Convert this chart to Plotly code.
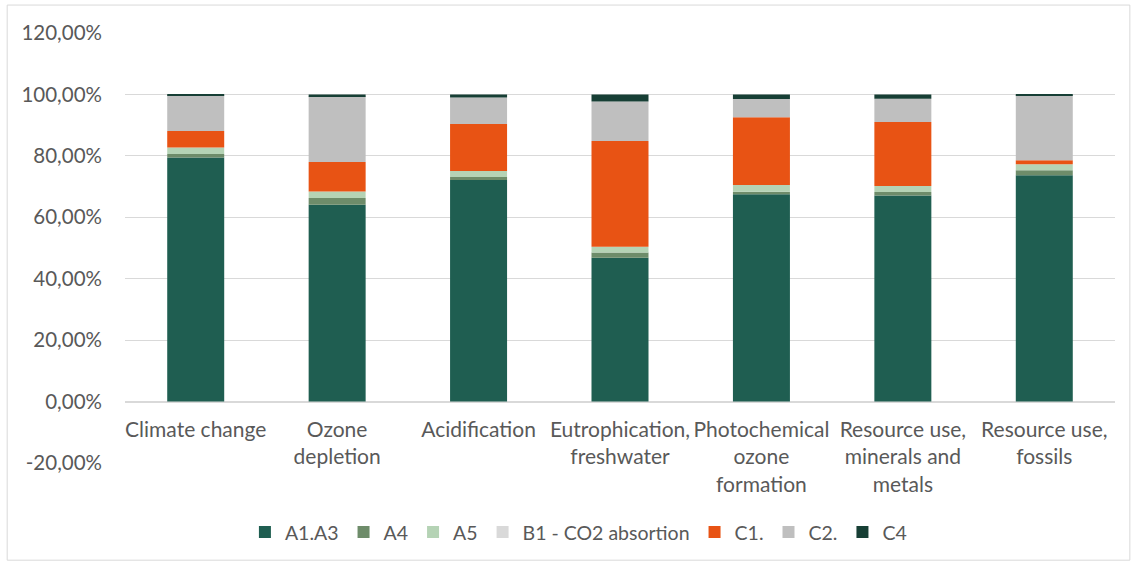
import plotly.graph_objects as go

categories = ["Climate change", "Ozone<br>depletion", "Acidification", "Eutrophication,<br>freshwater",
              "Photochemical<br>ozone<br>formation", "Resource use,<br>minerals and<br>metals", "Resource use,<br>fossils"]

a1a3 = [0.795, 0.641, 0.721, 0.468, 0.675, 0.671, 0.737]
a4 = [0.011, 0.022, 0.010, 0.017, 0.008, 0.011, 0.016]
a5 = [0.021, 0.021, 0.020, 0.019, 0.022, 0.020, 0.020]
b1 = [0.0, 0.0, 0.0, 0.0, 0.0, 0.0, 0.0]
c1 = [0.054, 0.096, 0.153, 0.344, 0.221, 0.208, 0.013]
c2 = [0.117, 0.214, 0.086, 0.129, 0.059, 0.076, 0.212]
c4 = [0.003, 0.006, 0.010, 0.023, 0.015, 0.014, 0.002]

y_tickvals = [-0.2, 0.0, 0.2, 0.4, 0.6, 0.8, 1.0, 1.2]
y_ticktext = ["-20,00%", "0,00%", "20,00%", "40,00%", "60,00%", "80,00%", "100,00%", "120,00%"]

series = [
    ("A1.A3", a1a3, "#1f5e51"),
    ("A4", a4, "#6e8c6a"),
    ("A5", a5, "#b5d3b5"),
    ("B1 - CO2 absortion", b1, "#d9d9d9"),
    ("C1.", c1, "#e85314"),
    ("C2.", c2, "#bfbfbf"),
    ("C4", c4, "#173f35"),
]

font = "Lato"
fig = go.Figure()
for name, vals, col in series:
    fig.add_trace(go.Bar(x=categories, y=vals, name=name, marker=dict(color=col, line=dict(width=0))))

fig.update_layout(
    width=1137, height=567,
    barmode="relative",
    bargap=0.597,
    separators=",.",
    paper_bgcolor="white", plot_bgcolor="white",
    margin=dict(l=125, r=22, t=33, b=104, autoexpand=False),
    font=dict(family=font, size=20, color="#595959"),
    legend=dict(orientation="h", x=0.458, xanchor="center", y=-0.161, yanchor="middle",
                font=dict(size=19.5, color="#595959"), traceorder="normal", itemwidth=30),
    showlegend=True,
)
fig.update_yaxes(range=[-0.2, 1.2], tickvals=y_tickvals, ticktext=y_ticktext, showgrid=True, gridcolor="#d9d9d9",
                 gridwidth=1.3, zeroline=False, ticks="", automargin=False, ticklabelstandoff=22,
                 tickfont=dict(size=20.5, color="#595959"))
fig.update_xaxes(anchor="free", position=0.2 / 1.4, showline=True, linecolor="#d9d9d9", linewidth=1.3,
                 ticks="", automargin=False, tickfont=dict(size=21, color="#595959"), ticklabelstandoff=9)
fig.add_shape(type="rect", xref="paper", yref="paper", x0=-0.119, x1=1.015, y0=-0.226, y1=1.065,
              line=dict(color="#d9d9d9", width=1), layer="below")
fig.write_html("out.html", config={"displayModeBar": False},
               post_script="document.body.style.margin='0';document.body.style.overflow='hidden';")
